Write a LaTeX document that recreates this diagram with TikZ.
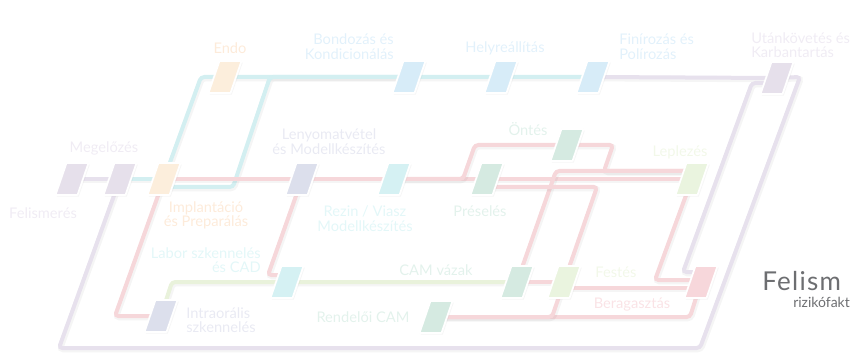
\documentclass[tikz,border=0pt]{standalone}
\usepackage{fontspec}
\setmainfont{Lato}
\usepackage{tikz}
\usetikzlibrary{calc,positioning,shadows}

% line, stop and label colours
\definecolor{lilac}{HTML}{E7E1ED}
\definecolor{lilacstop}{HTML}{E6E0EB}
\definecolor{lilactext}{HTML}{F0ECF4}
\definecolor{aqua}{HTML}{D3EFF1}
\definecolor{aquastop}{HTML}{D5F1F3}
\definecolor{aquatext}{HTML}{E3F7F8}
\definecolor{peach}{HTML}{FCEEDC}
\definecolor{peachtext}{HTML}{FDEBDA}
\definecolor{sky}{HTML}{D7ECF8}
\definecolor{skytext}{HTML}{E2F1FB}
\definecolor{slate}{HTML}{DCDFEC}
\definecolor{slatetext}{HTML}{E9EAF3}
\definecolor{sage}{HTML}{D5EAE1}
\definecolor{sagetext}{HTML}{E3F2EC}
\definecolor{lime}{HTML}{E9F2DB}
\definecolor{limestop}{HTML}{EAF4DF}
\definecolor{limetext}{HTML}{F2F8E9}
\definecolor{rose}{HTML}{F6D7DA}
\definecolor{rosestop}{HTML}{F7D7DB}
\definecolor{rosetext}{HTML}{FAE3E6}
\definecolor{heading}{HTML}{6D6E71}

\tikzset{
  stn/.style={draw=white, line width=1.3pt, line join=round,
    drop shadow={shadow xshift=1pt, shadow yshift=-1.2pt, opacity=0.07}},
  route/.style={line width=3pt, rounded corners=2.5pt, draw=#1,
    preaction={draw=black, draw opacity=0.04, line width=4.5pt,
      transform canvas={shift={(0.7pt,-1pt)}}}},
  lbl/.style={font=\fontsize{11}{10.9}\selectfont, inner sep=0pt, text=#1},
}

\begin{document}
\begin{tikzpicture}[x=0.75pt, y=-0.75pt]
\useasboundingbox (0,0) rectangle (858,353);

% stops (centres)
\coordinate (felis) at (72,179);
\coordinate (megel) at (120,179);
\coordinate (impl) at (164,179);
\coordinate (endo) at (225,77);
\coordinate (bond) at (409,77);
\coordinate (helyr) at (501,77);
\coordinate (finir) at (593,77);
\coordinate (utank) at (777,78);
\coordinate (lenyo) at (302,179);
\coordinate (rezin) at (394,179);
\coordinate (presel) at (487,179);
\coordinate (ontes) at (567,145);
\coordinate (lepl) at (692,179);
\coordinate (labor) at (287,282);
\coordinate (camv) at (517,282);
\coordinate (festes) at (564,282);
\coordinate (berag) at (701,282);
\coordinate (intra) at (161,316);
\coordinate (rendcam) at (436,317);

% lilac line
\draw[route=lilac] (felis) -- (megel);
\draw[route=lilac] (megel) -- (59,348) -- (700,348) -- (800,77) -- (utank);
\draw[route=lilac] (finir) -- (utank);
\draw[route=lilac] ($(utank)+(0,5)$) -- (752,83) -- (683,272) -- ($(berag)+(0,-10)$);
% aqua line
\draw[route=aqua] (megel) -- (impl);
\draw[route=aqua] (impl) -- (201,77) -- (finir);
\draw[route=aqua] ($(impl)+(0,8)$) -- (233,187) -- (270,77) -- (bond);
% lime line
\draw[route=lime] (intra) -- (172,282) -- (labor) -- (camv);
% rose line
\draw[route=rose] (impl) -- (lepl);
\draw[route=rose] (impl) -- (115,316) -- (intra);
\draw[route=rose] (lenyo) -- (268,275) -- ($(labor)+(0,-7)$);
\draw[route=rose] (rezin) -- (463,179) -- (475,145) -- (ontes) -- (613,145) -- (604,171) -- ($(lepl)+(0,-8)$);
\draw[route=rose] (camv) -- (556,171) -- ($(lepl)+(0,-8)$);
\draw[route=rose] ($(presel)+(0,8)$) -- (597,187) -- (festes);
\draw[route=rose] (camv) -- (festes);
\draw[route=rose] ($(festes)+(0,6)$) -- ($(berag)+(0,6)$);
\draw[route=rose] (lepl) -- (655,280) -- ($(berag)+(0,-2)$);
\draw[route=rose] (rendcam) -- (690,317) -- (berag);
\draw[route=rose] (rendcam) -- (552,317) -- (festes);

% the slanted stops on top
\foreach \s/\c in {felis/lilacstop, megel/lilacstop, impl/peach, endo/peach,
    bond/sky, helyr/sky, finir/sky, utank/lilacstop, lenyo/slate, rezin/aquastop,
    presel/sage, ontes/sage, lepl/limestop, labor/aquastop, camv/sage,
    festes/limestop, berag/rosestop, intra/slate, rendcam/sage}
  \filldraw[stn, fill=\c] ($(\s)+(-16.5,16)$) -- ++(22,0) -- ++(11,-32) -- ++(-22,0) -- cycle;

% labels
\path (43,213) node[lbl=lilactext] (tfelis) {Felismerés};
\path (104,148) node[lbl=lilactext] (tmegel) {Megelőzés};
\path (206,215.5) node[lbl=peachtext, align=center] (timpl) {Implantáció\\és Preparálás};
\path (230,48) node[lbl=peachtext] (tendo) {Endo};
\path (394,46.5) node[lbl=skytext, align=right, anchor=east] (tbond) {Bondozás és\\Kondicionálás};
\path (505,48) node[lbl=skytext] (thelyr) {Helyreállítás};
\path (619,46.5) node[lbl=skytext, align=left, anchor=west] (tfinir) {Finírozás és\\Polírozás};
\path (751,45) node[lbl=lilactext, align=left, anchor=west] (tutank) {Utánkövetés és\\Karbantartás};
\path (329,141.5) node[lbl=slatetext, align=center] (tlenyo) {Lenyomatvétel\\és Modellkészítés};
\path (365,218.5) node[lbl=aquatext, align=center] (trezin) {Rezin / Viasz\\Modellkészítés};
\path (480,211) node[lbl=sagetext] (tpresel) {Préselés};
\path (528,129) node[lbl=sagetext] (tontes) {Öntés};
\path (680,152) node[lbl=limetext] (tlepl) {Leplezés};
\path (261,260) node[lbl=aquatext, align=right, anchor=east] (tlabor) {Labor szkennelés\\és CAD};
\path (436,270) node[lbl=sagetext] (tcamv) {CAM vázak};
\path (616,272) node[lbl=limetext] (tfestes) {Festés};
\path (632,305) node[lbl=rosetext] (tberag) {Beragasztás};
\path (186,320) node[lbl=slatetext, align=left, anchor=west] (tintra) {Intraorális\\szkennelés};
\path (363,317) node[lbl=sagetext] (trendcam) {Rendelői CAM};

% heading at the right edge
\path (762,290) node[anchor=base west, inner sep=0pt, text=heading,
  font=\fontsize{19.5}{21}\selectfont\addfontfeatures{LetterSpace=5}] (ttl) {Felism};
\path (793,307) node[anchor=base west, inner sep=0pt, text=heading,
  font=\fontsize{10.5}{11}\selectfont] (tsub) {rizikófakt};
\end{tikzpicture}
\end{document}
